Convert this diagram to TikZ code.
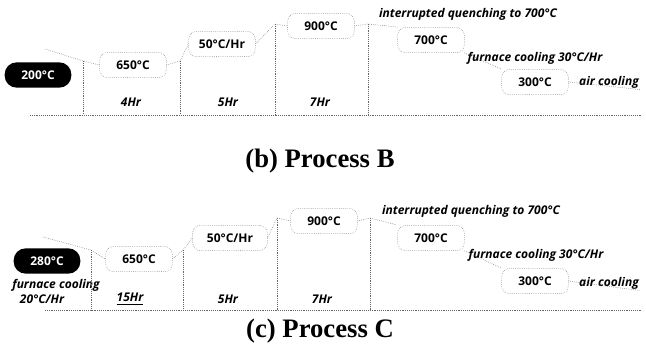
\documentclass[tikz,border=0pt]{standalone}
\usepackage{fontspec}
\setmainfont{Liberation Serif}
\setsansfont{Open Sans}
\usetikzlibrary{positioning}

\begin{document}
\begin{tikzpicture}[
    x=0.75pt, y=-0.75pt,
    pill/.style={rectangle, rounded corners=9pt, minimum width=50pt, minimum height=19pt, fill=black, text=white, font=\sffamily\bfseries\small},
    tempbox/.style={rectangle, rounded corners=6pt, minimum width=50pt, minimum height=19pt, draw=black!55, densely dotted, font=\sffamily\bfseries\small},
    note/.style={font=\sffamily\bfseries\itshape\small, inner sep=1pt},
    hours/.style={font=\sffamily\bfseries\itshape\small, inner sep=1pt},
    profile/.style={draw=black!60, densely dotted},
    caption/.style={font=\bfseries\fontsize{20}{24}\selectfont}
]
    \useasboundingbox (0,0) rectangle (646,351);

    % process B
    \node[pill] (bpill) at (38,75) {200°C};
    \coordinate (bramp) at (45,49);
    \coordinate (b1) at (83,61);
    \coordinate (b2) at (180,61);
    \coordinate (b3) at (275,24);
    \coordinate (b4) at (368,24);
    \node[tempbox] (b650) at (133,65) {650°C};
    \node[tempbox] (b50) at (222,44) {50°C/Hr};
    \node[tempbox] (b900) at (321,26) {900°C};
    \node[tempbox] (b700) at (431,40) {700°C};
    \node[tempbox] (b300) at (535,82) {300°C};
    \node[note] (bquench) at (468,14) {interrupted quenching to 700°C};
    \node[note] (bfurnace) at (535,58) {furnace cooling 30°C/Hr};
    \node[note] (bair) at (609,82) {air cooling};
    \node[hours] (bh1) at (131,102) {4Hr};
    \node[hours] (bh2) at (228,102) {5Hr};
    \node[hours] (bh3) at (320,102) {7Hr};
    \coordinate (bbase0) at (30,115);
    \coordinate (bbase1) at (642,115);
    \node[caption] (bcap) at (320,161) {(b) Process B};

    \draw[profile] (bramp) -- (b1) -- (b650.west);
    \draw[profile] (b650.east) -- (b2) -- (b50.west);
    \draw[profile] (b50.east) -- (b3) -- (b900.west);
    \draw[profile] (b900.east) -- (b4) -- (b700.north west);
    \draw[profile] (b700.south east) -- (b300.north west);
    \draw[profile] (b300.east) -- (bair.south east);
    \draw[profile] (b1) -- (b1 |- bbase0);
    \draw[profile] (b2) -- (b2 |- bbase0);
    \draw[profile] (b3) -- (b3 |- bbase0);
    \draw[profile] (b4) -- (b4 |- bbase0);
    \draw[profile] (bbase0) -- (bbase1);

    % process C
    \node[pill] (cpill) at (47,261) {280°C};
    \coordinate (cramp) at (43,237);
    \coordinate (c1) at (91,250);
    \coordinate (c2) at (183,250);
    \coordinate (c3) at (277,218);
    \coordinate (c4) at (370,218);
    \node[tempbox] (c650) at (139,259) {650°C};
    \node[tempbox, minimum width=56pt] (c50) at (230,238) {50°C/Hr};
    \node[tempbox] (c900) at (324,221) {900°C};
    \node[tempbox] (c700) at (431,238) {700°C};
    \node[tempbox] (c300) at (535,281) {300°C};
    \node[note] (cfurn1) at (56,285) {furnace cooling};
    \node[note] (cfurn2) at (42,299) {20°C/Hr};
    \node[note] (cquench) at (471,211) {interrupted quenching to 700°C};
    \node[note] (cfurnace) at (536,255) {furnace cooling 30°C/Hr};
    \node[note] (cair) at (609,283) {air cooling};
    \node[hours] (ch1) at (130,299) {\underline{15Hr}};
    \node[hours] (ch2) at (228,299) {5Hr};
    \node[hours] (ch3) at (322,299) {7Hr};
    \coordinate (cbase0) at (45,310);
    \coordinate (cbase1) at (642,310);
    \node[caption] (ccap) at (320,331) {(c) Process C};

    \draw[profile] (cramp) -- (c1) -- (c650.west);
    \draw[profile] (c650.east) -- (c2) -- (c50.west);
    \draw[profile] (c50.east) -- (c3) -- (c900.west);
    \draw[profile] (c900.east) -- (c4) -- (c700.north west);
    \draw[profile] (c700.south east) -- (c300.north west);
    \draw[profile] (c300.east) -- (cair.south east);
    \draw[profile] (c1) -- (c1 |- cbase0);
    \draw[profile] (c2) -- (c2 |- cbase0);
    \draw[profile] (c3) -- (c3 |- cbase0);
    \draw[profile] (c4) -- (c4 |- cbase0);
    \draw[profile] (cbase0) -- (cbase1);

\end{tikzpicture}
\end{document}
